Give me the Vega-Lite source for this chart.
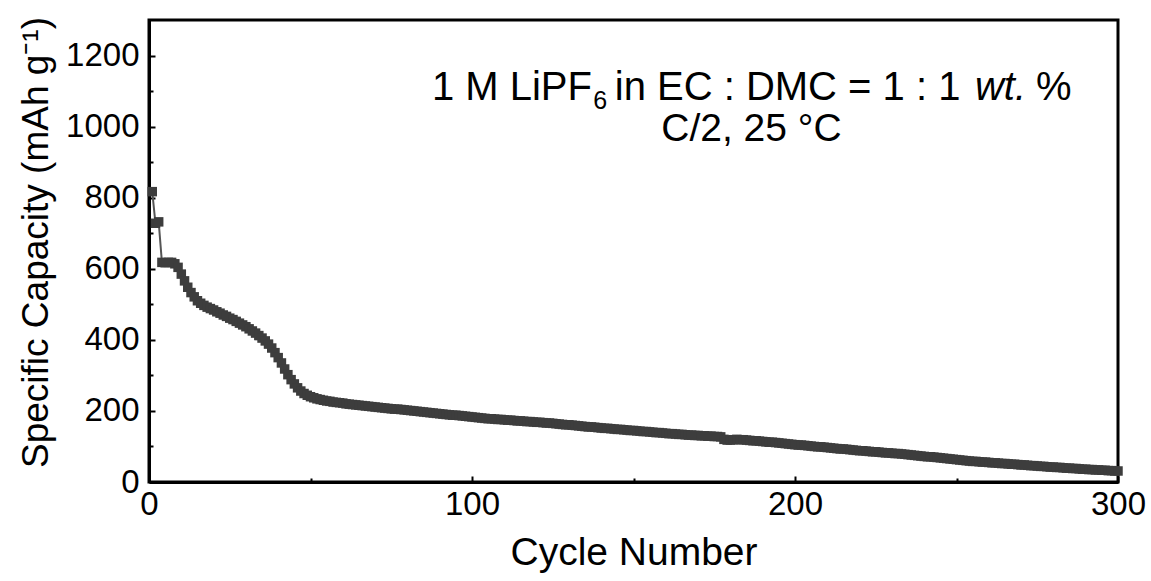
{
"$schema": "https://vega.github.io/schema/vega-lite/v6.json",
"width": 969, "height": 462,
"autosize": {"type": "none"},
"padding": {"left": 149, "top": 20, "right": 33, "bottom": 99},
"config": {"font": "Liberation Sans", "view": {"stroke": "#000", "strokeWidth": 3},
 "axis": {"domainColor": "#000", "domainWidth": 3, "tickColor": "#000", "tickWidth": 2, "labelColor": "#000", "titleColor": "#000", "grid": false, "labelFont": "Liberation Sans", "titleFont": "Liberation Sans", "titleFontWeight": "normal"}},
"datasets": {"cap": [
{"c":1,"v":817},{"c":2,"v":728},{"c":3,"v":732},{"c":4,"v":618},{"c":5,"v":617},{"c":6,"v":618},{"c":7,"v":618},{"c":8,"v":614},{"c":9,"v":604},{"c":10,"v":585},
{"c":11,"v":566},{"c":12,"v":548},{"c":13,"v":533},{"c":14,"v":521},{"c":15,"v":510},{"c":16,"v":503},{"c":17,"v":497},{"c":18,"v":492},{"c":19,"v":488},{"c":20,"v":484},
{"c":21,"v":479},{"c":22,"v":475},{"c":23,"v":470},{"c":24,"v":466},{"c":25,"v":461},{"c":26,"v":457},{"c":27,"v":452},{"c":28,"v":447},{"c":29,"v":442},{"c":30,"v":437},
{"c":31,"v":431},{"c":32,"v":425},{"c":33,"v":419},{"c":34,"v":412},{"c":35,"v":405},{"c":36,"v":397},{"c":37,"v":388},{"c":38,"v":377},{"c":39,"v":364},{"c":40,"v":350},
{"c":41,"v":335},{"c":42,"v":318},{"c":43,"v":302},{"c":44,"v":288},{"c":45,"v":276},{"c":46,"v":265},{"c":47,"v":256},{"c":48,"v":249},{"c":49,"v":244},{"c":50,"v":240},
{"c":51,"v":237},{"c":52,"v":234},{"c":53,"v":232},{"c":54,"v":230},{"c":55,"v":228},{"c":56,"v":227},{"c":57,"v":225},{"c":58,"v":224},{"c":59,"v":223},{"c":60,"v":222},
{"c":61,"v":220},{"c":62,"v":219},{"c":63,"v":218},{"c":64,"v":217},{"c":65,"v":216},{"c":66,"v":215},{"c":67,"v":214},{"c":68,"v":213},{"c":69,"v":212},{"c":70,"v":211},
{"c":71,"v":210},{"c":72,"v":209},{"c":73,"v":208},{"c":74,"v":207},{"c":75,"v":206},{"c":76,"v":205},{"c":77,"v":205},{"c":78,"v":204},{"c":79,"v":203},{"c":80,"v":202},
{"c":81,"v":201},{"c":82,"v":200},{"c":83,"v":199},{"c":84,"v":198},{"c":85,"v":197},{"c":86,"v":196},{"c":87,"v":195},{"c":88,"v":194},{"c":89,"v":193},{"c":90,"v":192},
{"c":91,"v":191},{"c":92,"v":190},{"c":93,"v":189},{"c":94,"v":188},{"c":95,"v":188},{"c":96,"v":187},{"c":97,"v":186},{"c":98,"v":185},{"c":99,"v":184},{"c":100,"v":183},
{"c":101,"v":182},{"c":102,"v":181},{"c":103,"v":180},{"c":104,"v":179},{"c":105,"v":178},{"c":106,"v":178},{"c":107,"v":177},{"c":108,"v":176},{"c":109,"v":176},{"c":110,"v":175},
{"c":111,"v":174},{"c":112,"v":174},{"c":113,"v":173},{"c":114,"v":172},{"c":115,"v":172},{"c":116,"v":171},{"c":117,"v":170},{"c":118,"v":170},{"c":119,"v":169},{"c":120,"v":168},
{"c":121,"v":168},{"c":122,"v":167},{"c":123,"v":166},{"c":124,"v":166},{"c":125,"v":165},{"c":126,"v":164},{"c":127,"v":163},{"c":128,"v":162},{"c":129,"v":161},{"c":130,"v":161},
{"c":131,"v":160},{"c":132,"v":159},{"c":133,"v":158},{"c":134,"v":157},{"c":135,"v":156},{"c":136,"v":155},{"c":137,"v":155},{"c":138,"v":154},{"c":139,"v":153},{"c":140,"v":152},
{"c":141,"v":151},{"c":142,"v":151},{"c":143,"v":150},{"c":144,"v":149},{"c":145,"v":148},{"c":146,"v":148},{"c":147,"v":147},{"c":148,"v":146},{"c":149,"v":145},{"c":150,"v":145},
{"c":151,"v":144},{"c":152,"v":143},{"c":153,"v":142},{"c":154,"v":142},{"c":155,"v":141},{"c":156,"v":140},{"c":157,"v":139},{"c":158,"v":139},{"c":159,"v":138},{"c":160,"v":137},
{"c":161,"v":136},{"c":162,"v":136},{"c":163,"v":135},{"c":164,"v":134},{"c":165,"v":134},{"c":166,"v":133},{"c":167,"v":132},{"c":168,"v":132},{"c":169,"v":131},{"c":170,"v":131},
{"c":171,"v":130},{"c":172,"v":130},{"c":173,"v":129},{"c":174,"v":129},{"c":175,"v":128},{"c":176,"v":128},{"c":177,"v":127},{"c":178,"v":120},{"c":179,"v":118},{"c":180,"v":118},
{"c":181,"v":119},{"c":182,"v":120},{"c":183,"v":119},{"c":184,"v":119},{"c":185,"v":118},{"c":186,"v":117},{"c":187,"v":116},{"c":188,"v":116},{"c":189,"v":115},{"c":190,"v":114},
{"c":191,"v":113},{"c":192,"v":112},{"c":193,"v":112},{"c":194,"v":111},{"c":195,"v":110},{"c":196,"v":109},{"c":197,"v":108},{"c":198,"v":107},{"c":199,"v":106},{"c":200,"v":105},
{"c":201,"v":104},{"c":202,"v":104},{"c":203,"v":103},{"c":204,"v":102},{"c":205,"v":101},{"c":206,"v":100},{"c":207,"v":99},{"c":208,"v":99},{"c":209,"v":98},{"c":210,"v":97},
{"c":211,"v":96},{"c":212,"v":95},{"c":213,"v":94},{"c":214,"v":93},{"c":215,"v":93},{"c":216,"v":92},{"c":217,"v":91},{"c":218,"v":90},{"c":219,"v":89},{"c":220,"v":88},
{"c":221,"v":88},{"c":222,"v":87},{"c":223,"v":86},{"c":224,"v":85},{"c":225,"v":85},{"c":226,"v":84},{"c":227,"v":83},{"c":228,"v":82},{"c":229,"v":82},{"c":230,"v":81},
{"c":231,"v":80},{"c":232,"v":80},{"c":233,"v":79},{"c":234,"v":78},{"c":235,"v":77},{"c":236,"v":76},{"c":237,"v":75},{"c":238,"v":74},{"c":239,"v":73},{"c":240,"v":72},
{"c":241,"v":71},{"c":242,"v":71},{"c":243,"v":70},{"c":244,"v":69},{"c":245,"v":68},{"c":246,"v":67},{"c":247,"v":66},{"c":248,"v":65},{"c":249,"v":64},{"c":250,"v":63},
{"c":251,"v":62},{"c":252,"v":61},{"c":253,"v":60},{"c":254,"v":59},{"c":255,"v":58},{"c":256,"v":58},{"c":257,"v":57},{"c":258,"v":56},{"c":259,"v":56},{"c":260,"v":55},
{"c":261,"v":54},{"c":262,"v":54},{"c":263,"v":53},{"c":264,"v":52},{"c":265,"v":52},{"c":266,"v":51},{"c":267,"v":50},{"c":268,"v":50},{"c":269,"v":49},{"c":270,"v":48},
{"c":271,"v":48},{"c":272,"v":47},{"c":273,"v":46},{"c":274,"v":46},{"c":275,"v":45},{"c":276,"v":44},{"c":277,"v":44},{"c":278,"v":43},{"c":279,"v":42},{"c":280,"v":42},
{"c":281,"v":41},{"c":282,"v":41},{"c":283,"v":40},{"c":284,"v":39},{"c":285,"v":39},{"c":286,"v":38},{"c":287,"v":38},{"c":288,"v":37},{"c":289,"v":36},{"c":290,"v":36},
{"c":291,"v":35},{"c":292,"v":35},{"c":293,"v":34},{"c":294,"v":34},{"c":295,"v":33},{"c":296,"v":33},{"c":297,"v":32},{"c":298,"v":32},{"c":299,"v":31},{"c":300,"v":31}
]},
"resolve": {"axis": {"x": "independent", "y": "independent"}},
"layer": [
 {"data": {"name": "cap"},
  "mark": {"type": "line", "color": "#555555", "strokeWidth": 2},
  "encoding": {
   "x": {"field": "c", "type": "quantitative", "scale": {"domain": [0, 300], "nice": false, "zero": false},
    "axis": {"orient": "bottom", "values": [0, 100, 200, 300], "format": "d", "tickSize": -6, "labelFontSize": 33, "labelPadding": 12, "labelFlush": false, "labelOverlap": false, "title": "Cycle Number", "titleFontSize": 39, "titlePadding": 12}},
   "y": {"field": "v", "type": "quantitative", "scale": {"domain": [0, 1300], "nice": false},
    "axis": {"orient": "left", "values": [0, 200, 400, 600, 800, 1000, 1200], "format": "d", "tickSize": -6, "labelFontSize": 33, "labelPadding": 16, "labelFlush": false, "labelOverlap": false, "title": "Specific Capacity (mAh g\u207B\u00B9)", "titleFontSize": 37, "titlePadding": 10, "titleY": 222}}
  }},
 {"data": {"name": "cap"},
  "mark": {"type": "point", "shape": "square", "filled": true, "size": 90, "color": "#3d3d3d", "opacity": 1},
  "encoding": {
   "x": {"field": "c", "type": "quantitative", "scale": {"domain": [0, 300], "nice": false, "zero": false},
    "axis": {"orient": "bottom", "values": [50, 150, 250], "tickSize": -4, "labels": false, "domain": false, "title": null}},
   "y": {"field": "v", "type": "quantitative", "scale": {"domain": [0, 1300], "nice": false},
    "axis": {"orient": "left", "values": [100, 300, 500, 700, 900, 1100], "tickSize": -4, "labels": false, "domain": false, "title": null}}
  }},
 {"data": {"values": [{}]},
  "mark": {"type": "text", "text": "1 M LiPF", "fontSize": 40, "align": "left", "baseline": "alphabetic", "color": "#000"},
  "encoding": {"x": {"datum": 87.6, "type": "quantitative", "axis": null}, "y": {"datum": 1075, "type": "quantitative", "axis": null}}},
 {"data": {"values": [{}]},
  "mark": {"type": "text", "text": "6", "fontSize": 25, "align": "left", "baseline": "alphabetic", "color": "#000"},
  "encoding": {"x": {"datum": 137.5, "type": "quantitative", "axis": null}, "y": {"datum": 1050, "type": "quantitative", "axis": null}}},
 {"data": {"values": [{}]},
  "mark": {"type": "text", "text": "in EC : DMC = 1 : 1", "fontSize": 40, "align": "center", "baseline": "alphabetic", "color": "#000"},
  "encoding": {"x": {"datum": 197.7, "type": "quantitative", "axis": null}, "y": {"datum": 1075, "type": "quantitative", "axis": null}}},
 {"data": {"values": [{}]},
  "mark": {"type": "text", "text": "wt.", "fontSize": 40, "fontStyle": "italic", "align": "left", "baseline": "alphabetic", "color": "#000"},
  "encoding": {"x": {"datum": 255.7, "type": "quantitative", "axis": null}, "y": {"datum": 1075, "type": "quantitative", "axis": null}}},
 {"data": {"values": [{}]},
  "mark": {"type": "text", "text": "%", "fontSize": 40, "align": "left", "baseline": "alphabetic", "color": "#000"},
  "encoding": {"x": {"datum": 274.6, "type": "quantitative", "axis": null}, "y": {"datum": 1075, "type": "quantitative", "axis": null}}},
 {"data": {"values": [{}]},
  "mark": {"type": "text", "text": "C/2, 25 \u00B0C", "fontSize": 39, "align": "center", "baseline": "alphabetic", "color": "#000"},
  "encoding": {"x": {"datum": 186.5, "type": "quantitative", "axis": null}, "y": {"datum": 960, "type": "quantitative", "axis": null}}}
]
}
